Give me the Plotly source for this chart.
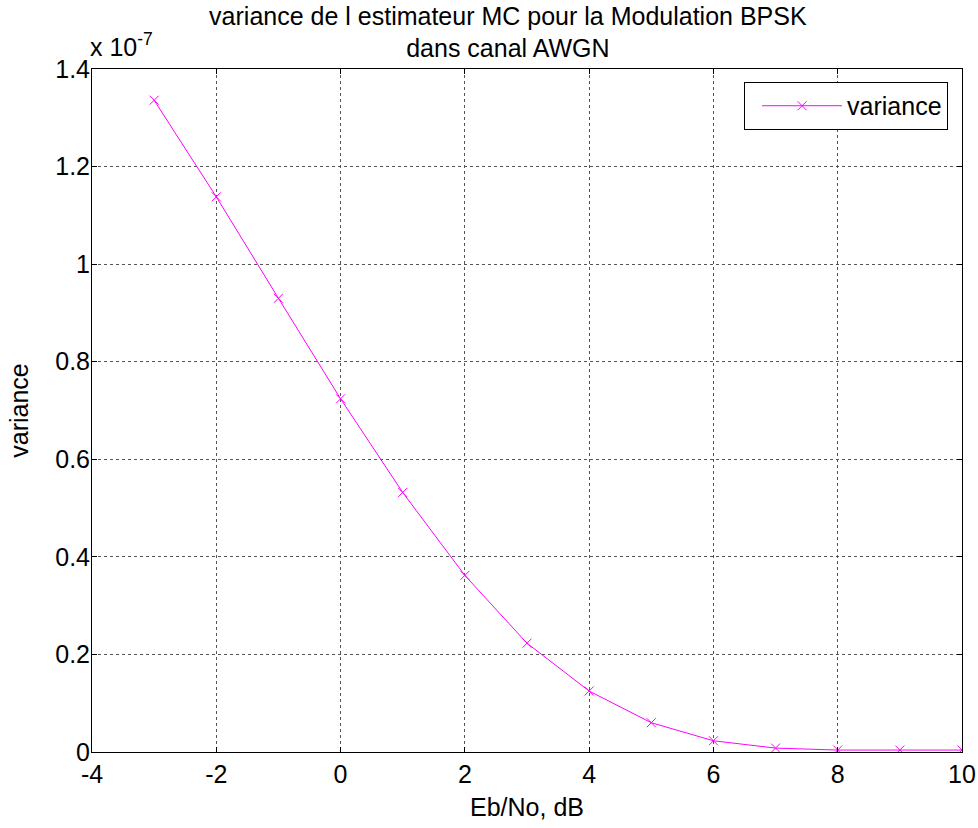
import plotly.graph_objects as go

ebno_db = [-3, -2, -1, 0, 1, 2, 3, 4, 5, 6, 7, 8, 9, 10]
variance_e7 = [1.336, 1.138, 0.930, 0.724, 0.532, 0.362, 0.223, 0.125, 0.060, 0.023, 0.008, 0.004, 0.004, 0.004]
x_ticks = [-4, -2, 0, 2, 4, 6, 8, 10]
x_labels = ["-4", "-2", "0", "2", "4", "6", "8", "10"]
y_ticks = [0, 0.2, 0.4, 0.6, 0.8, 1.0, 1.2, 1.4]
y_labels = ["0", "0.2", "0.4", "0.6", "0.8", "1", "1.2", "1.4"]

font = "Liberation Sans"
FS = 25

fig = go.Figure()
fig.add_trace(go.Scatter(
    x=ebno_db, y=variance_e7, mode="lines+markers", name="variance",
    line=dict(color="#FF00FF", width=1),
    marker=dict(symbol="x-thin-open", size=9, color="#FF00FF",
                line=dict(color="#FF00FF", width=1)),
))

axis_common = dict(showline=True, linecolor="black", linewidth=1, mirror="allticks",
                   ticks="inside", ticklen=5, tickcolor="black", automargin=False,
                   showgrid=True, gridcolor="#555555", griddash="dot", gridwidth=1,
                   zeroline=False, tickfont=dict(size=FS, color="black", family=font))

fig.update_xaxes(range=[-4, 10], tickvals=x_ticks, ticktext=x_labels, ticklabelstandoff=0,
                 **axis_common,
                 title=dict(text="Eb/No, dB", font=dict(size=FS, color="black", family=font), standoff=11))
fig.update_yaxes(range=[0, 1.4], tickvals=y_ticks, ticktext=y_labels, ticklabelstandoff=-4,
                 **axis_common,
                 title=dict(text="variance", font=dict(size=FS, color="black", family=font), standoff=19))

fig.update_layout(
    width=978, height=828,
    margin=dict(l=92, r=16, t=69, b=76, autoexpand=False),
    paper_bgcolor="white", plot_bgcolor="white",
    font=dict(family=font, color="black", size=FS),
    title=dict(text="variance de l estimateur MC pour la Modulation BPSK<br>dans canal AWGN",
               xref="paper", x=0.478, xanchor="center", yref="container", y=0.970, yanchor="top",
               font=dict(size=FS, color="black", family=font)),
    legend=dict(x=0.984, xanchor="right", y=0.981, yanchor="top",
                bordercolor="black", borderwidth=1, bgcolor="white",
                itemwidth=80, indentation=12,
                font=dict(size=FS, color="black", family=font)),
    showlegend=True,
)
fig.add_annotation(xref="paper", yref="paper", x=0, y=1.0, xanchor="left", yanchor="bottom",
                   text="x 10<sup>-7</sup>", showarrow=False, xshift=-4, yshift=6,
                   font=dict(size=25, color="black", family=font))

fig.write_html("out.html", config={"displayModeBar": False},
               post_script="document.body.style.margin='0';document.body.style.overflow='hidden';")
